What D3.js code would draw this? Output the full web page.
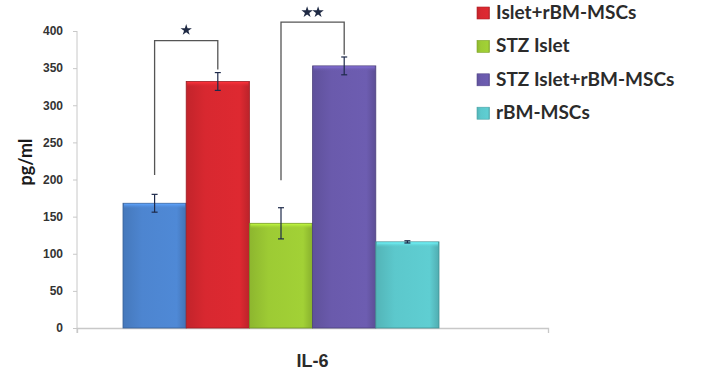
<!DOCTYPE html>
<html>
<head>
<meta charset="utf-8">
<style>
    body { margin: 0; background: #fff; }
    svg { display: block; font-family: Lato, "Open Sans", sans-serif; }
    .y-axis text { font-size: 12px; font-weight: bold; fill: #333; }
    .x-axis text { font-size: 18px; font-weight: bold; fill: #2b2b2b; }
    .legend text { font-size: 19px; font-weight: bold; fill: #2b2b2b; }
</style>
</head>
<body>
<svg width="702" height="378"></svg>
<script src="https://cdn.jsdelivr.net/npm/d3@7"></script>
<script>
    var svg = d3.select("svg"),
        width = +svg.attr("width"),
        height = +svg.attr("height");

    // data
    var groups = ["Islet", "Islet+rBM-MSCs", "STZ Islet", "STZ Islet+rBM-MSCs", "rBM-MSCs"];
    var means = [168, 332, 141, 353, 116];
    var errors = [12, 12, 21, 12, 1.5];
    var colors = ["#4d85d0", "#d82830", "#9dcb34", "#6a5aac", "#5cc8cc"];
    var yTicks = [0, 50, 100, 150, 200, 250, 300, 350, 400];
    var category = ["IL-6"];
    // legend entries visible in the picture (the first one is above the crop)
    var legendItems = groups.slice(1);
    // significance brackets: bar indices, heights (pg/ml) and stars
    var bracketFrom = [0, 2];
    var bracketTo = [1, 3];
    var bracketTop = [387, 412];
    var bracketLeftEnd = [206, 199];
    var bracketRightEnd = [348, 368];
    var bracketStars = [1, 2];
    var starLevel = [402, 426];

    var y = d3.scaleLinear().domain([0, 400]).range([328, 31]);
    var xCat = d3.scaleBand().domain(category).range([77, 548]);
    var x = d3.scaleBand().domain(groups).range([123, 439]).padding(0);

    // gradients for the bevelled bars
    var defs = svg.append("defs");
    colors.forEach(function (c, i) {
        var g = defs.append("linearGradient").attr("id", "grad" + i)
            .attr("x1", "0%").attr("x2", "100%");
        g.append("stop").attr("offset", "0%").attr("stop-color", d3.color(c).darker(0.3));
        g.append("stop").attr("offset", "30%").attr("stop-color", c);
        g.append("stop").attr("offset", "85%").attr("stop-color", d3.color(c).brighter(0.08));
        g.append("stop").attr("offset", "100%").attr("stop-color", d3.color(c).darker(0.4));
        var t = defs.append("linearGradient").attr("id", "top" + i)
            .attr("x1", "0%").attr("x2", "0%").attr("y1", "0%").attr("y2", "100%");
        t.append("stop").attr("offset", "0%").attr("stop-color", d3.color(c).brighter(0.6));
        t.append("stop").attr("offset", "100%").attr("stop-color", c).attr("stop-opacity", 0);
    });

    // y axis
    var yAxis = svg.append("g")
        .attr("class", "y-axis")
        .attr("transform", "translate(77,0)")
        .call(d3.axisLeft(y).tickValues(yTicks).tickSize(4).tickSizeOuter(0).tickPadding(10));
    yAxis.select(".domain").remove();
    yAxis.selectAll("line").attr("stroke", "#c8c8c8");
    yAxis.append("line")
        .attr("x1", 0).attr("x2", 0)
        .attr("y1", y(400)).attr("y2", y(0) + 5)
        .attr("stroke", "#c8c8c8");

    // x axis
    var xAxis = svg.append("g")
        .attr("class", "x-axis")
        .attr("transform", "translate(0," + y(0) + ")")
        .call(d3.axisBottom(xCat).tickSize(0).tickSizeOuter(5).tickPadding(26));
    xAxis.select(".domain").attr("stroke", "#c8c8c8").attr("stroke-width", 1.3);

    // bars
    var bars = svg.append("g").selectAll("g")
        .data(groups)
        .enter().append("g");
    bars.append("rect")
        .attr("x", function (d) { return x(d); })
        .attr("y", function (d, i) { return y(means[i]); })
        .attr("width", x.bandwidth())
        .attr("height", function (d, i) { return y(0) - y(means[i]); })
        .attr("fill", function (d, i) { return "url(#grad" + i + ")"; })
        .attr("stroke", function (d, i) { return d3.color(colors[i]).darker(0.9); })
        .attr("stroke-width", 0.8);
    bars.append("rect")
        .attr("x", function (d) { return x(d) + 1; })
        .attr("y", function (d, i) { return y(means[i]) + 0.5; })
        .attr("width", x.bandwidth() - 2)
        .attr("height", 5)
        .attr("fill", function (d, i) { return "url(#top" + i + ")"; });

    // error bars
    var eb = svg.append("g").attr("stroke", "#1e2a4a").attr("stroke-width", 1.2);
    groups.forEach(function (d, i) {
        var cx = x(d) + x.bandwidth() / 2;
        var top = y(means[i] + errors[i]), bot = y(means[i] - errors[i]);
        eb.append("line").attr("x1", cx).attr("x2", cx).attr("y1", top).attr("y2", bot);
        eb.append("line").attr("x1", cx - 3).attr("x2", cx + 3).attr("y1", top).attr("y2", top);
        eb.append("line").attr("x1", cx - 3).attr("x2", cx + 3).attr("y1", bot).attr("y2", bot);
    });

    // significance brackets
    var br = svg.append("g");
    bracketFrom.forEach(function (f, k) {
        var x1 = x(groups[f]) + x.bandwidth() / 2;
        var x2 = x(groups[bracketTo[k]]) + x.bandwidth() / 2;
        br.append("path")
            .attr("d", "M" + x1 + "," + y(bracketLeftEnd[k]) + "V" + y(bracketTop[k]) +
                "H" + x2 + "V" + y(bracketRightEnd[k]))
            .attr("fill", "none")
            .attr("stroke", "#555")
            .attr("stroke-width", 1.3);
        var mid = (x1 + x2) / 2;
        var n = bracketStars[k];
        for (var s = 0; s < n; s++) {
            var sx = mid + (s - (n - 1) / 2) * 11;
            br.append("path")
                .attr("d", d3.symbol(d3.symbolStar).size(40)())
                .attr("transform", "translate(" + sx + "," + (y(starLevel[k]) + 0.5) + ")")
                .attr("fill", "#1f2a44");
        }
    });

    // y axis title
    svg.append("text")
        .attr("transform", "translate(31.5,162) rotate(-90)")
        .attr("text-anchor", "middle")
        .style("font-size", "18px")
        .style("font-weight", "bold")
        .style("fill", "#1a1a1a")
        .text("pg/ml");

    // legend
    var legend = svg.append("g").attr("class", "legend");
    var lg = legend.selectAll("g")
        .data(legendItems)
        .enter().append("g")
        .attr("transform", function (d, i) { return "translate(477," + (19 + i * 33.4) + ")"; });
    lg.append("rect")
        .attr("x", 0).attr("y", -12)
        .attr("width", 12.5).attr("height", 12)
        .attr("fill", function (d) { return "url(#grad" + groups.indexOf(d) + ")"; })
        .attr("stroke", function (d) { return d3.color(colors[groups.indexOf(d)]).darker(0.6); })
        .attr("stroke-width", 0.6);
    lg.append("text")
        .attr("x", 19)
        .attr("y", 0)
        .text(function (d) { return d; });
</script>
</body>
</html>
